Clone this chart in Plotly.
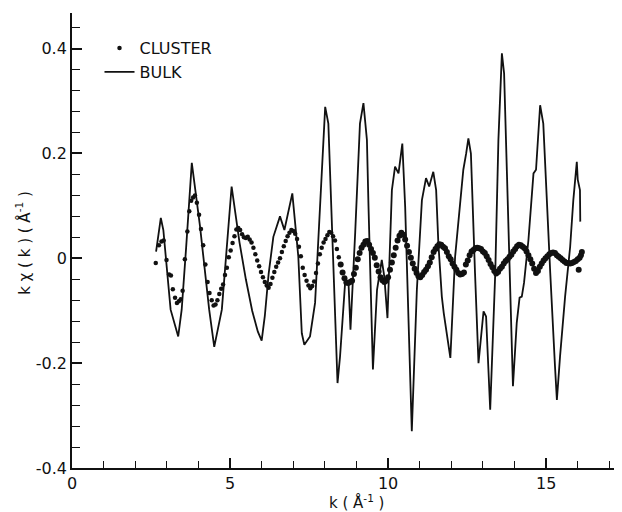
import plotly.graph_objects as go

# ---- BULK (solid line) : k (1/A) and k*chi(k) values
bulk_k = [2.66, 2.81, 2.89, 3.12, 3.36, 3.47, 3.61, 3.79, 4.05, 4.34, 4.50, 4.74, 5.05, 5.14,
          5.30, 5.50, 5.70, 5.88, 6.00, 6.10, 6.22, 6.37, 6.58, 6.72, 6.82, 6.97, 7.16, 7.27,
          7.35, 7.53, 7.69, 7.85, 8.01, 8.11, 8.26, 8.40, 8.48, 8.64, 8.75, 8.81, 8.96, 9.11,
          9.22, 9.33, 9.38, 9.52, 9.65, 9.80, 9.88, 9.98, 10.12, 10.22, 10.33, 10.45, 10.54,
          10.64, 10.75, 10.91, 11.07, 11.20, 11.30, 11.43, 11.52, 11.59, 11.70, 11.76, 11.86,
          11.97, 12.12, 12.28, 12.38, 12.47, 12.54, 12.62, 12.68, 12.75, 12.86, 13.02, 13.10,
          13.23, 13.39, 13.49, 13.60, 13.67, 13.76, 13.84, 13.95, 14.07, 14.16, 14.23, 14.30,
          14.44, 14.60, 14.68, 14.81, 14.91, 15.02, 15.13, 15.28, 15.34, 15.44, 15.60, 15.76,
          15.86, 15.97, 16.00, 16.07, 16.08]
bulk_v = [0.013, 0.077, 0.054, -0.098, -0.149, -0.098, 0.020, 0.182, 0.061, -0.098, -0.169,
          -0.098, 0.137, 0.100, 0.030, -0.040, -0.100, -0.140, -0.157, -0.110, -0.030, 0.041,
          0.080, 0.054, 0.080, 0.124, 0.003, -0.143, -0.165, -0.149, -0.085, 0.100, 0.289,
          0.257, 0.000, -0.238, -0.187, -0.047, -0.050, -0.136, 0.050, 0.257, 0.296, 0.226,
          0.100, -0.212, -0.060, -0.003, -0.035, -0.114, 0.130, 0.175, 0.162, 0.219, 0.099,
          -0.092, -0.330, -0.060, 0.111, 0.153, 0.137, 0.165, 0.130, 0.029, -0.073, -0.104,
          -0.142, -0.190, 0.003, 0.100, 0.169, 0.200, 0.229, 0.200, 0.086, -0.028, -0.200,
          -0.101, -0.111, -0.289, -0.028, 0.226, 0.391, 0.353, 0.162, -0.028, -0.244, -0.123,
          -0.075, -0.073, -0.047, 0.035, 0.162, 0.169, 0.292, 0.257, 0.099, -0.028, -0.206,
          -0.270, -0.187, -0.073, 0.022, 0.111, 0.184, 0.150, 0.130, 0.070]

# ---- CLUSTER (dots)
cluster_k = [2.65, 2.75, 2.83, 2.90, 2.99, 3.07, 3.13, 3.19, 3.26, 3.32, 3.38, 3.44, 3.50,
             3.57, 3.65, 3.71, 3.77, 3.83, 3.89, 3.95, 4.02, 4.08, 4.15, 4.22, 4.29, 4.35,
             4.42, 4.48, 4.54, 4.60, 4.66, 4.72, 4.78, 4.84, 4.90, 4.96, 5.02, 5.08, 5.14,
             5.20, 5.26, 5.32, 5.38, 5.44, 5.50, 5.56, 5.62, 5.68, 5.74, 5.80, 5.86, 5.92,
             5.98, 6.04, 6.10, 6.16, 6.22, 6.28, 6.34, 6.40, 6.46, 6.52, 6.58, 6.64, 6.70,
             6.76, 6.82, 6.88, 6.94, 7.00, 7.06, 7.12, 7.18, 7.24, 7.30, 7.36, 7.42, 7.48,
             7.54, 7.60, 7.66, 7.72, 7.78, 7.84, 7.90, 7.96, 8.02, 8.08, 8.14, 8.20, 8.26,
             8.32, 8.38, 8.44, 8.50, 8.56, 8.62, 8.68, 8.74, 8.80, 8.86, 8.92, 8.98, 9.04,
             9.10, 9.16, 9.22, 9.28, 9.34, 9.40, 9.46, 9.52, 9.58, 9.64, 9.70, 9.76, 9.82,
             9.88, 9.94, 10.00, 10.06, 10.12, 10.18, 10.24, 10.30, 10.36, 10.42, 10.48,
             10.54, 10.60, 10.66, 10.72, 10.78, 10.84, 10.90, 10.96, 11.02, 11.08, 11.14,
             11.20, 11.26, 11.32, 11.38, 11.44, 11.50, 11.56, 11.62, 11.68, 11.74, 11.80,
             11.86, 11.92, 11.98, 12.04, 12.10, 12.16, 12.22, 12.28, 12.34, 12.40, 12.46,
             12.52, 12.58, 12.64, 12.70, 12.76, 12.82, 12.88, 12.94, 13.00, 13.06, 13.12,
             13.18, 13.24, 13.30, 13.36, 13.42, 13.48, 13.54, 13.60, 13.66, 13.72, 13.78,
             13.84, 13.90, 13.96, 14.02, 14.08, 14.14, 14.20, 14.26, 14.32, 14.38, 14.44,
             14.50, 14.56, 14.62, 14.68, 14.74, 14.80, 14.86, 14.92, 14.98, 15.04, 15.10,
             15.16, 15.22, 15.28, 15.34, 15.40, 15.46, 15.52, 15.58, 15.64, 15.70, 15.76,
             15.82, 15.88, 15.94, 16.00, 16.03, 16.06, 16.10, 16.13]
cluster_v = [-0.009, 0.025, 0.032, 0.034, -0.003, -0.031, -0.033, -0.059, -0.075, -0.085,
             -0.082, -0.078, -0.062, -0.002, 0.051, 0.090, 0.110, 0.116, 0.120, 0.106, 0.083,
             0.056, 0.025, -0.012, -0.045, -0.066, -0.080, -0.090, -0.088, -0.080, -0.068,
             -0.058, -0.050, -0.032, -0.018, 0.002, 0.015, 0.029, 0.042, 0.055, 0.058, 0.054,
             0.046, 0.040, 0.039, 0.041, 0.036, 0.030, 0.020, 0.008, -0.004, -0.015, -0.026,
             -0.036, -0.045, -0.052, -0.056, -0.049, -0.037, -0.026, -0.016, -0.008, 0.000,
             0.012, 0.023, 0.033, 0.042, 0.049, 0.054, 0.052, 0.047, 0.037, 0.022, 0.004,
             -0.018, -0.032, -0.043, -0.052, -0.057, -0.053, -0.044, -0.028, -0.010, 0.008,
             0.020, 0.030, 0.037, 0.044, 0.050, 0.049, 0.042, 0.034, 0.018, 0.002, -0.012,
             -0.027, -0.038, -0.046, -0.047, -0.045, -0.043, -0.030, -0.018, -0.002, 0.010,
             0.020, 0.026, 0.032, 0.033, 0.026, 0.018, 0.010, 0.001, -0.013, -0.025, -0.036,
             -0.042, -0.045, -0.043, -0.036, -0.022, -0.008, 0.006, 0.020, 0.034, 0.043,
             0.049, 0.045, 0.036, 0.024, 0.012, 0.001, -0.010, -0.020, -0.028, -0.034, -0.036,
             -0.032, -0.026, -0.022, -0.015, -0.008, 0.002, 0.012, 0.018, 0.023, 0.027, 0.026,
             0.022, 0.019, 0.012, 0.004, -0.002, -0.010, -0.016, -0.022, -0.028, -0.031,
             -0.030, -0.027, -0.012, -0.004, 0.006, 0.013, 0.016, 0.019, 0.020, 0.019, 0.018,
             0.013, 0.010, 0.004, -0.003, -0.011, -0.017, -0.024, -0.029, -0.026, -0.020,
             -0.016, -0.010, -0.005, -0.002, 0.003, 0.007, 0.013, 0.018, 0.023, 0.026, 0.025,
             0.022, 0.019, 0.013, 0.006, -0.002, -0.010, -0.020, -0.028, -0.024, -0.016,
             -0.010, -0.004, 0.000, 0.004, 0.008, 0.010, 0.011, 0.010, 0.006, 0.003, 0.000,
             -0.003, -0.006, -0.009, -0.009, -0.010, -0.009, -0.007, -0.005, -0.002, -0.022,
             0.001, 0.006, 0.012]

x_tickvals = [0, 5, 10, 15]
x_ticktext = ["0", "5", "10", "15"]
y_tickvals = [-0.4, -0.2, 0, 0.2, 0.4]
y_ticktext = ["-0.4", "-0.2", "0", "0.2", "0.4"]

FONT = "DejaVu Sans"
INK = "#111111"
K_DENSE = 8.5  # beyond this k the plotted dots merge into a thicker band

low = [(k, v) for k, v in zip(cluster_k, cluster_v) if k < K_DENSE]
high = [(k, v) for k, v in zip(cluster_k, cluster_v) if k >= K_DENSE]

fig = go.Figure()
fig.add_trace(go.Scatter(
    x=[p[0] for p in low], y=[p[1] for p in low], mode="markers", name="CLUSTER",
    legendgroup="cluster",
    marker=dict(color=INK, size=4.5, opacity=1, symbol="circle", line=dict(width=0)),
))
fig.add_trace(go.Scatter(
    x=[p[0] for p in high], y=[p[1] for p in high], mode="markers", name="CLUSTER",
    legendgroup="cluster", showlegend=False,
    marker=dict(color=INK, size=6, opacity=1, symbol="circle", line=dict(width=0)),
))
fig.add_trace(go.Scatter(
    x=bulk_k, y=bulk_v, mode="lines", name="BULK",
    line=dict(color=INK, width=1.8),
))

axis_common = dict(
    showgrid=False, zeroline=False, showline=True, linecolor=INK, linewidth=1.8,
    ticks="inside", ticklen=10, tickwidth=1.5, tickcolor=INK, automargin=False,
    tickfont=dict(family=FONT, size=16, color=INK), mirror=False,
)
fig.update_xaxes(
    range=[0, 17.4], tickmode="array", tickvals=x_tickvals, ticktext=x_ticktext,
    minor=dict(ticks="inside", dtick=1, tick0=0, ticklen=7, tickwidth=1.3, tickcolor=INK),
    **axis_common,
)
fig.update_yaxes(
    range=[-0.4, 0.468], tickmode="array", tickvals=y_tickvals, ticktext=y_ticktext,
    minor=dict(ticks="inside", dtick=0.04, tick0=-0.4, ticklen=8, tickwidth=1.3, tickcolor=INK),
    **axis_common,
)

fig.add_annotation(
    text="k χ ( k ) ( Å<sup>-1</sup> )", xref="paper", yref="paper", x=-0.088, y=0.494,
    xanchor="center", yanchor="middle", textangle=-90, showarrow=False,
    font=dict(family=FONT, size=15, color=INK),
)
fig.add_annotation(
    text="k ( Å<sup>-1</sup> )", xref="paper", yref="paper", x=0.518, y=-0.048,
    xanchor="center", yanchor="top", showarrow=False,
    font=dict(family=FONT, size=15, color=INK),
)

# the page adds an 8 px body margin, so the figure is 8 px smaller on each side
fig.update_layout(
    width=614, height=504, autosize=False,
    margin=dict(l=64, r=0, t=5, b=44),
    paper_bgcolor="white", plot_bgcolor="white",
    showlegend=True,
    legend=dict(x=0.05, y=0.96, xanchor="left", yanchor="top",
                bgcolor="rgba(0,0,0,0)", font=dict(family=FONT, size=16, color=INK),
                itemwidth=30, tracegroupgap=4, traceorder="normal"),
)

fig.write_html("out.html")
